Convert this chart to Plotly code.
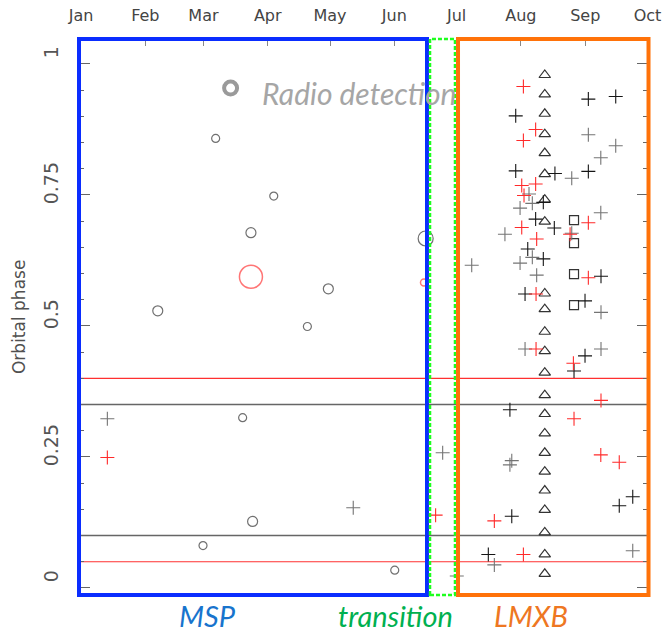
import plotly.graph_objects as go

# ---------------- data ----------------
MONTHS = ["Jan", "Feb", "Mar", "Apr", "May", "Jun", "Jul", "Aug", "Sep", "Oct"]
MONTH_START_DAY = [0, 31, 59, 90, 120, 151, 181, 212, 243, 273]
PHASE_TICKS = [0, 0.25, 0.5, 0.75, 1]
PHASE_TICK_LABELS = ["0", "0.25", "0.5", "0.75", "1"]

# open black circles (MSP state)
circ_day = [64.9, 92.9, 81.9, 119.2, 37.0, 109.1, 166.1, 77.9, 82.7, 58.8, 151.2]
circ_phase = [0.858, 0.748, 0.678, 0.571, 0.529, 0.499, 0.667, 0.325, 0.127, 0.081, 0.034]
circ_size = [8, 8, 10, 10, 10, 8, 15, 8, 10, 8, 8]

# open red circles
rcirc_day = [81.9, 165.3]
rcirc_phase = [0.594, 0.583]
rcirc_size = [23, 7]

# radio detection key
radio_day = [72.1]
radio_phase = [0.954]

# black crosses
bplus_day = [244.5, 257.7, 209.5, 209.5, 228.4, 244.5, 222.8, 219.1, 228.1, 215.3, 222.8,
             250.6, 214.0, 242.9, 242.9, 237.6, 206.7, 265.9, 259.4, 207.6, 196.3]
bplus_phase = [0.933, 0.938, 0.901, 0.796, 0.791, 0.795, 0.736, 0.704, 0.687, 0.647, 0.628,
               0.595, 0.561, 0.548, 0.443, 0.414, 0.340, 0.174, 0.157, 0.137, 0.064]

# grey crosses
gplus_day = [12.7, 131.2, 174.3, 181.1, 244.5, 257.7, 250.5, 236.5, 215.9, 217.5, 211.6, 250.5,
             204.3, 236.5, 217.5, 211.6, 188.3, 219.6, 250.6, 214.0, 250.6, 207.6, 206.7, 265.9, 199.2]
gplus_phase = [0.323, 0.153, 0.258, 0.023, 0.865, 0.844, 0.821, 0.782, 0.752, 0.734, 0.725, 0.716,
               0.675, 0.677, 0.631, 0.620, 0.616, 0.597, 0.526, 0.456, 0.456, 0.243, 0.235, 0.071, 0.044]

# red crosses
rplus_day = [12.7, 170.9, 213.2, 219.1, 213.2, 212.4, 219.1, 213.5, 244.5, 212.4, 235.7,
             219.6, 244.5, 219.3, 219.3, 237.3, 250.6, 237.6, 250.5, 259.4, 199.2, 213.2]
rplus_phase = [0.249, 0.139, 0.957, 0.875, 0.854, 0.768, 0.771, 0.749, 0.697, 0.688, 0.675,
               0.666, 0.592, 0.561, 0.456, 0.429, 0.358, 0.323, 0.254, 0.240, 0.128, 0.064]

# triangles
tri_day = [223.5] * 23
tri_phase = [0.979, 0.942, 0.905, 0.866, 0.830, 0.790, 0.741, 0.699, 0.562, 0.532, 0.489, 0.452,
             0.411, 0.368, 0.332, 0.295, 0.258, 0.222, 0.186, 0.149, 0.106, 0.064, 0.027]

# squares
sq_day = [237.6, 237.6, 237.6, 237.6]
sq_phase = [0.702, 0.658, 0.599, 0.540]

# horizontal reference lines
red_lines = [0.4, 0.05]
black_lines = [0.35, 0.1]

# ---------------- figure ----------------
fig = go.Figure()

def add(x, y, symbol, size, color, width):
    fig.add_trace(go.Scatter(x=x, y=y, mode="markers", showlegend=False, hoverinfo="skip",
                             marker=dict(symbol=symbol, size=size, color=color,
                                         line=dict(color=color, width=width))))

add(circ_day, circ_phase, "circle-open", circ_size, "#333333", 1.2)
add(rcirc_day, rcirc_phase, "circle-open", rcirc_size, "#ff3b3b", 1.5)
add(radio_day, radio_phase, "circle-open", 13, "#9a9a9a", 4)
add(tri_day, tri_phase, "triangle-up-open", 10, "#333333", 1.2)
add(sq_day, sq_phase, "square-open", 9, "#333333", 1.2)
add(gplus_day, gplus_phase, "cross-thin-open", 10, "#747474", 1.1)
add(bplus_day, bplus_phase, "cross-thin-open", 10, "#151515", 1.1)
add(rplus_day, rplus_phase, "cross-thin-open", 10, "#ff2a2a", 1.1)

shapes = []
for v in black_lines:
    shapes.append(dict(type="line", xref="paper", x0=0, x1=1, yref="y", y0=v, y1=v,
                       line=dict(color="#666666", width=1.5), layer="below"))
for v in red_lines:
    shapes.append(dict(type="line", xref="paper", x0=0, x1=1, yref="y", y0=v, y1=v,
                       line=dict(color="#ff3030", width=1.1), layer="below"))

# state boxes
shapes.append(dict(type="rect", xref="paper", yref="paper", x0=0.0, x1=0.6116, y0=0.0, y1=1.0,
                   line=dict(color="#0a2dff", width=4)))
shapes.append(dict(type="rect", xref="paper", yref="paper", x0=0.6169, x1=0.6608, y0=0.0, y1=1.0,
                   line=dict(color="#1eff1e", width=2.5, dash="4px,2px")))
shapes.append(dict(type="rect", xref="paper", yref="paper", x0=0.6661, x1=1.0009, y0=0.0, y1=1.0,
                   line=dict(color="#ff7209", width=4)))

annotations = [
    dict(text="Radio detection", x=86.3, y=0.944, xref="x", yref="y", xanchor="left",
         yanchor="middle", showarrow=False,
         font=dict(family="Lato", size=30, color="#a6a6a6", style="italic")),
    dict(text="MSP", x=0.2267, y=-0.037, xref="paper", yref="paper", showarrow=False,
         xanchor="center", yanchor="middle",
         font=dict(family="Lato", size=29, color="#1874cd", style="italic")),
    dict(text="transition", x=0.5554, y=-0.037, xref="paper", yref="paper", showarrow=False,
         xanchor="center", yanchor="middle",
         font=dict(family="Lato", size=29, color="#00b050", style="italic")),
    dict(text="LMXB", x=0.7944, y=-0.037, xref="paper", yref="paper", showarrow=False,
         xanchor="center", yanchor="middle",
         font=dict(family="Lato", size=29, color="#ee7722", style="italic")),
    dict(text="Orbital phase", x=-0.1054, y=0.5, xref="paper", yref="paper", showarrow=False,
         textangle=-90, xanchor="center", yanchor="middle",
         font=dict(family="DejaVu Sans", size=17, color="#505050")),
]

fig.update_layout(
    width=672, height=632,
    margin=dict(l=79, r=24, t=39, b=37, pad=0),
    paper_bgcolor="white", plot_bgcolor="white",
    shapes=shapes, annotations=annotations,
    xaxis=dict(range=[-0.96, 273.25], side="top", tickmode="array", automargin=False,
               tickvals=MONTH_START_DAY, ticktext=MONTHS, ticks="inside", ticklen=7,
               tickcolor="#888888", showgrid=False, zeroline=False, showline=False,
               ticklabelstandoff=14,
               tickfont=dict(family="DejaVu Sans", size=16, color="#444444")),
    yaxis=dict(range=[-0.0134, 1.0477], tickmode="array", tickvals=PHASE_TICKS, automargin=False,
               ticktext=PHASE_TICK_LABELS, ticks="inside", ticklen=11, tickcolor="#666666",
               tickangle=-90, mirror="ticks", showgrid=False, zeroline=False, showline=False,
               ticklabelstandoff=16, ticklabelshift=-9,
               minor=dict(ticks="inside", ticklen=5, tickcolor="#666666", tick0=0, dtick=0.05,
                          showgrid=False),
               tickfont=dict(family="DejaVu Sans", size=19, color="#555555")),
)

fig.write_html("out.html")
